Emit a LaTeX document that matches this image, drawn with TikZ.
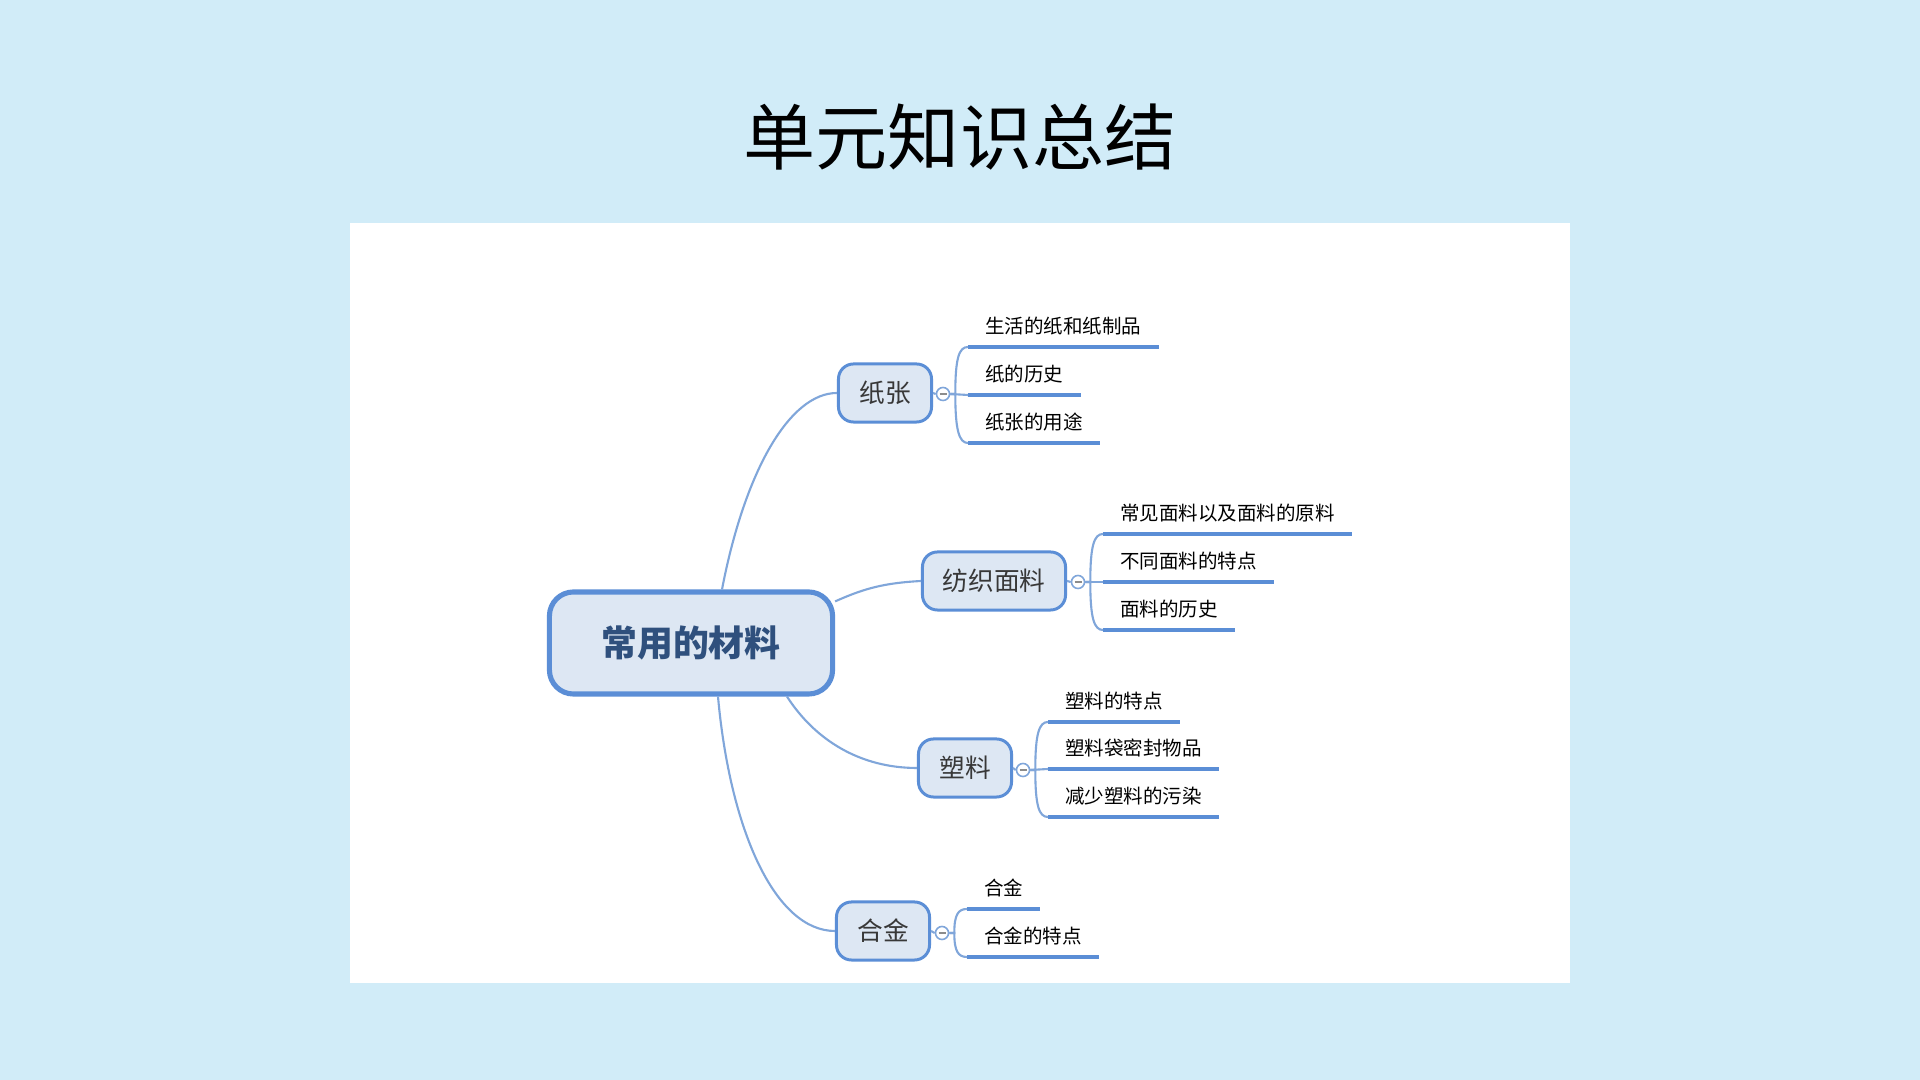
\documentclass[tikz,border=0pt]{standalone}
\usepackage{fontspec}
\setmainfont{Noto Sans CJK SC}
\usepackage{tikz}
\definecolor{slidebg}{RGB}{209,236,248}
\definecolor{mapblue}{RGB}{91,142,214}
\definecolor{maplink}{RGB}{128,166,218}
\definecolor{mapfill}{RGB}{221,231,243}
\definecolor{roottext}{RGB}{47,80,125}

\begin{document}
\begin{tikzpicture}[
    x=0.01cm, y=-0.01cm,
    root/.style={draw=mapblue, line width=1.45pt, rounded corners=2.4mm, fill=mapfill, minimum width=2.83cm, minimum height=1.02cm, inner sep=0pt, font=\fontsize{10.2}{12}\selectfont\bfseries, text=roottext},
    topic/.style={draw=mapblue, line width=0.85pt, rounded corners=1.5mm, fill=mapfill, minimum width=0.93cm, minimum height=0.58cm, inner sep=0pt, font=\fontsize{7.3}{9}\selectfont, text=black!78},
    leaf/.style={anchor=south west, inner xsep=0.165cm, inner ysep=3.2pt, font=\fontsize{5.55}{7}\selectfont},
    collapse/.style={circle, draw=maplink, fill=white, line width=0.45pt, minimum size=0.13cm, inner sep=0pt,
        path picture={\draw[black!45, line width=0.4pt] ([xshift=-0.035cm]path picture bounding box.center) -- ([xshift=0.035cm]path picture bounding box.center);}},
    link/.style={draw=maplink, line width=0.6pt},
    leafline/.style={draw=mapblue, line width=1.1pt},
]
\useasboundingbox (0,0) rectangle (1920,1080);
\fill[slidebg] (0,0) rectangle (1920,1080);
\fill[white] (350,223) rectangle (1570,983);

\node[font=\fontsize{20.5}{24}\selectfont] (title) at (960,137) {单元知识总结};

% main topics
\node[root] (root) at (691,643) {常用的材料};
\node[topic] (t1) at (885,393) {纸张};
\node[topic, minimum width=1.43cm] (t2) at (994,581) {纺织面料};
\node[topic] (t3) at (965,768) {塑料};
\node[topic] (t4) at (883,931) {合金};

\draw[link] ([shift={(31,0)}]root.north) .. controls (745,470) and (790,393) .. (t1.west);
\draw[link] ([shift={(0,12)}]root.north east) .. controls (865,588) and (885,583) .. (t2.west);
\draw[link] ([shift={(96,0)}]root.south) .. controls (815,740) and (860,768) .. (t3.west);
\draw[link] ([shift={(27,0)}]root.south) .. controls (730,830) and (775,931) .. (t4.west);

% collapse buttons
\node[collapse] (c1) at (943,394) {};
\node[collapse] (c2) at (1078,582) {};
\node[collapse] (c3) at (1023,770) {};
\node[collapse] (c4) at (942,933) {};
\draw[link] (t1.east) -- (c1.west);
\draw[link] (t2.east) -- (c2.west);
\draw[link] (t3.east) -- (c3.west);
\draw[link] (t4.east) -- (c4.west);

% leaves
\node[leaf] (z11) at (968,347) {生活的纸和纸制品};
\node[leaf] (z12) at (968,395) {纸的历史};
\node[leaf] (z13) at (968,443) {纸张的用途};
\node[leaf] (z21) at (1103,534) {常见面料以及面料的原料};
\node[leaf] (z22) at (1103,582) {不同面料的特点};
\node[leaf] (z23) at (1103,630) {面料的历史};
\node[leaf] (z31) at (1048,722) {塑料的特点};
\node[leaf] (z32) at (1048,769) {塑料袋密封物品};
\node[leaf] (z33) at (1048,817) {减少塑料的污染};
\node[leaf] (z41) at (967,909) {合金};
\node[leaf] (z42) at (967,957) {合金的特点};

\foreach \n in {z11,z12,z13,z21,z22,z23,z31,z32,z33,z41,z42}
    \draw[leafline] (\n.south west) -- (\n.south east);

% brackets
\draw[link] (c1.east) -- ++(5,0) .. controls +(0,-36) and +(-9,0) .. (z11.south west);
\draw[link] (c1.east) -- (z12.south west);
\draw[link] (c1.east) -- ++(5,0) .. controls +(0,36) and +(-9,0) .. (z13.south west);
\draw[link] (c2.east) -- ++(5,0) .. controls +(0,-36) and +(-9,0) .. (z21.south west);
\draw[link] (c2.east) -- (z22.south west);
\draw[link] (c2.east) -- ++(5,0) .. controls +(0,36) and +(-9,0) .. (z23.south west);
\draw[link] (c3.east) -- ++(5,0) .. controls +(0,-36) and +(-9,0) .. (z31.south west);
\draw[link] (c3.east) -- (z32.south west);
\draw[link] (c3.east) -- ++(5,0) .. controls +(0,36) and +(-9,0) .. (z33.south west);
\draw[link] (c4.east) -- ++(5,0) .. controls +(0,-18) and +(-9,0) .. (z41.south west);
\draw[link] (c4.east) -- ++(5,0) .. controls +(0,18) and +(-9,0) .. (z42.south west);
\end{tikzpicture}
\end{document}
